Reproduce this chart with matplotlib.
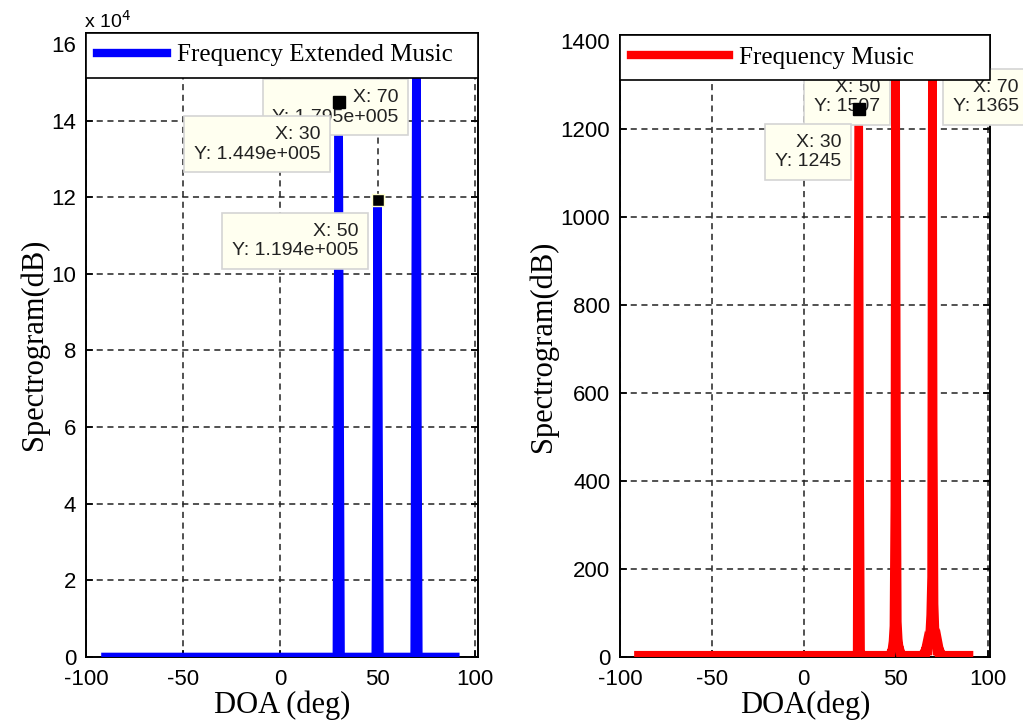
import numpy as np
import matplotlib
matplotlib.use('Agg')
import matplotlib.pyplot as plt
from matplotlib.ticker import FuncFormatter

plt.rcParams['axes.unicode_minus'] = False

# 1. Data
doa = np.arange(-90, 90.5, 0.5)

# Frequency Extended Music: flat, only a few non-zero points near the peaks
fem_angles = [29.5, 30, 30.5, 49.5, 50, 50.5, 69.5, 70, 70.5]
fem_values = [7.25e4, 1.449e5, 6.75e4, 6.0e4, 1.194e5, 5.8e4, 8.85e4, 1.795e5, 6.36e4]

# Frequency Music: wider skirts around the peaks
fm_angles = [29, 29.5, 30, 30.5, 31,
             47, 48, 48.5, 49, 49.5, 50, 50.5, 51, 51.5, 52, 53,
             65, 66, 67, 68, 68.5, 69, 69.5, 70, 70.5, 71, 71.5, 72, 73, 74, 75]
fm_values = [12, 857, 1245, 402, 15,
             8, 20, 35, 70, 345, 1507, 560, 80, 40, 22, 10,
             8, 14, 22, 35, 55, 95, 182, 1600, 523, 120, 60, 40, 25, 15, 8]

fem = np.zeros_like(doa)
for a, v in zip(fem_angles, fem_values):
    fem[np.isclose(doa, a)] = v

fm = np.full_like(doa, 4.0)
for a, v in zip(fm_angles, fm_values):
    fm[np.isclose(doa, a)] = v

# 2. Plotting
fig = plt.figure(figsize=(10.23, 7.25), dpi=100)
ax1 = fig.add_axes([0.084, 0.094, 0.383, 0.861])
ax2 = fig.add_axes([0.606, 0.094, 0.362, 0.858])

sans = 'Liberation Sans'
serif = 'Liberation Serif'
tip_box = dict(boxstyle='square,pad=0.5', facecolor='#fffff0', edgecolor='#d4d4d4', linewidth=1.2)
tip_kw = dict(ha='right', va='center', fontsize=14, family=sans, linespacing=1.2,
              bbox=tip_box, color='#222222')


def style_axes(ax):
    ax.grid(True, color='#222222', linestyle=(0, (4, 3)), linewidth=1.1)
    ax.tick_params(direction='in', top=True, right=True, length=5, width=1.2,
                   labelsize=16, pad=7)
    ax.tick_params(axis='x', pad=9)
    for lab in ax.get_xticklabels() + ax.get_yticklabels():
        lab.set_fontfamily(sans)
    for s in ax.spines.values():
        s.set_linewidth(1.4)
    ax.set_xlim(-100, 101.5)
    ax.set_xticks([-100, -50, 0, 50, 100])


ax1.plot(doa, fem, color='#0000ff', linewidth=6, solid_joinstyle='miter',
         label='Frequency Extended Music', zorder=3)
ax1.set_ylim(0, 1.63e5)
ax1.set_yticks(np.arange(0, 1.7e5, 2e4))
ax1.yaxis.set_major_formatter(FuncFormatter(lambda v, p: '%d' % round(v / 1e4)))
style_axes(ax1)
ax1.text(-0.005, 1.002, r'x 10$^4$', transform=ax1.transAxes, fontsize=14,
         family=sans, ha='left', va='bottom')
ax1.set_xlabel('DOA (deg)', fontsize=22, family=serif, labelpad=0)
ax1.set_ylabel('Spectrogram(dB)', fontsize=22, family=serif, labelpad=2)

# data tips
ax1.text(60.8, 1.435e5, 'X: 70\nY: 1.795e+005', zorder=5, **tip_kw)
ax1.plot([30], [1.449e5], 's', color='black', markersize=9, zorder=6)
ax1.text(20.6, 1.338e5, 'X: 30\nY: 1.449e+005', zorder=7, **tip_kw)
ax1.text(40, 1.086e5, 'X: 50\nY: 1.194e+005', zorder=5, **tip_kw)
ax1.plot([50], [1.194e5], 's', color='black', markersize=9, zorder=6,
         markeredgecolor='#ffffcc', markeredgewidth=1)

leg1 = ax1.legend(loc='upper left', bbox_to_anchor=(0, 1, 1, 0), mode='expand',
                  borderaxespad=0, fancybox=False, edgecolor='black', framealpha=1,
                  handlelength=2.8, handletextpad=0.4, borderpad=0.45,
                  prop={'family': serif, 'size': 18})
leg1.get_frame().set_linewidth(1.2)
leg1.set_zorder(10)

ax2.plot(doa, fm, color='#ff0000', linewidth=6, solid_joinstyle='miter',
         label='Frequency Music', zorder=3)
ax2.set_ylim(0, 1414)
ax2.set_yticks(np.arange(0, 1401, 200))
style_axes(ax2)
ax2.set_xlabel('DOA(deg)', fontsize=22, family=serif, labelpad=0)
ax2.set_ylabel('Spectrogram(dB)', fontsize=22, family=serif, labelpad=2)

ax2.text(41.6, 1273, 'X: 50\nY: 1507', zorder=5, **tip_kw)
ax2.text(117, 1273, 'X: 70\nY: 1365', zorder=5, clip_on=False, **tip_kw)
ax2.plot([30], [1245], 's', color='black', markersize=9, zorder=6)
ax2.text(20.5, 1148, 'X: 30\nY: 1245', zorder=7, **tip_kw)

leg2 = ax2.legend(loc='upper left', bbox_to_anchor=(0, 1, 1, 0), mode='expand',
                  borderaxespad=0, fancybox=False, edgecolor='black', framealpha=1,
                  handlelength=3.9, handletextpad=0.4, borderpad=0.45,
                  prop={'family': serif, 'size': 18})
leg2.get_frame().set_linewidth(1.2)
leg2.set_zorder(10)

# 3. Save
fig.savefig('out.png', dpi=100)
